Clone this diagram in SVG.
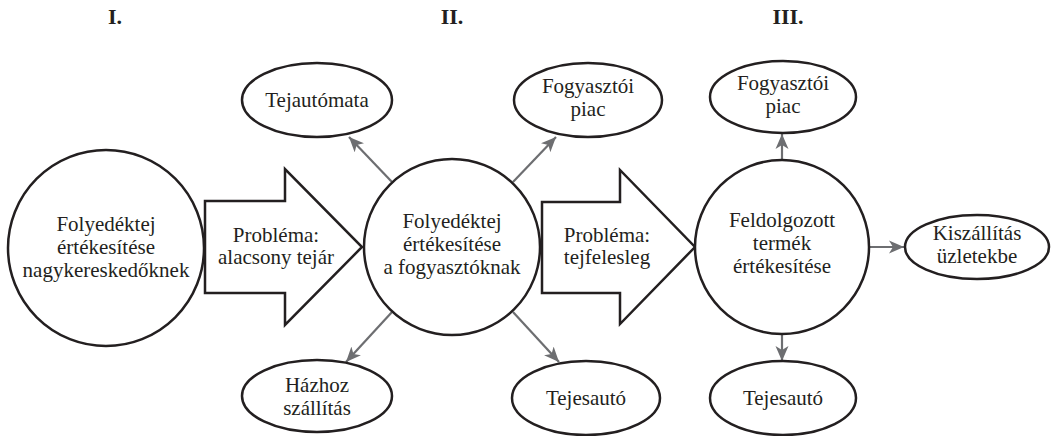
<svg xmlns="http://www.w3.org/2000/svg" width="1064" height="436" viewBox="0 0 1064 436" font-family="Liberation Serif, Times New Roman, serif">
  <style>
    .shape { fill: #ffffff; stroke: #231f20; stroke-width: 2.5; }
    .label { font-size: 21px; fill: #231f20; text-anchor: middle; }
    .head { font-size: 22px; font-weight: bold; fill: #231f20; text-anchor: middle; }
    .link { fill: none; stroke: #6d6e71; stroke-width: 2.2; marker-end: url(#tip); }
  </style>
  <defs>
    <marker id="tip" markerUnits="userSpaceOnUse" markerWidth="16" markerHeight="14" viewBox="0 0 16 14" refX="15" refY="7" orient="auto">
      <path d="M0,0.5 L15,7 L0,13.5 L4,7 z" fill="#6d6e71"/>
    </marker>
  </defs>

  <rect width="1064" height="436" fill="#ffffff"/>

  <!-- phase headings -->
  <g id="headings">
    <text class="head" x="115" y="24">I.</text>
    <text class="head" x="452" y="24">II.</text>
    <text class="head" x="788" y="24">III.</text>
  </g>

  <!-- connectors -->
  <g id="connectors">
    <line class="link" x1="392" y1="182" x2="349" y2="137"/>
    <line class="link" x1="513" y1="182" x2="556" y2="137"/>
    <line class="link" x1="392" y1="312" x2="346" y2="362"/>
    <line class="link" x1="513" y1="312" x2="559" y2="362"/>
    <line class="link" x1="782" y1="160" x2="782" y2="134"/>
    <line class="link" x1="782" y1="334" x2="782" y2="361"/>
    <line class="link" x1="869" y1="247" x2="904" y2="247"/>
  </g>

  <!-- stage I -->
  <g id="node-nagyker">
    <circle class="shape" cx="106" cy="248" r="98"/>
    <text class="label" x="106" y="231">Folyedéktej</text>
    <text class="label" x="106" y="254">értékesítése</text>
    <text class="label" x="106" y="277">nagykereskedőknek</text>
  </g>

  <g id="problem-1">
    <polygon class="shape" points="205,201 285,201 285,169 362,247 285,325 285,293 205,293"/>
    <text class="label" x="276" y="242">Probléma:</text>
    <text class="label" x="276" y="264">alacsony tejár</text>
  </g>

  <!-- stage II -->
  <g id="node-fogyasztok">
    <circle class="shape" cx="452" cy="247" r="88"/>
    <text class="label" x="452" y="228">Folyedéktej</text>
    <text class="label" x="452" y="251">értékesítése</text>
    <text class="label" x="452" y="274">a fogyasztóknak</text>
  </g>

  <g id="node-tejautomata">
    <ellipse class="shape" cx="317" cy="100" rx="75" ry="37"/>
    <text class="label" x="317" y="107">Tejautómata</text>
  </g>

  <g id="node-piac-2">
    <ellipse class="shape" cx="588" cy="100" rx="74" ry="37"/>
    <text class="label" x="588" y="93">Fogyasztói</text>
    <text class="label" x="588" y="116">piac</text>
  </g>

  <g id="node-hazhoz">
    <ellipse class="shape" cx="317" cy="396" rx="75" ry="36"/>
    <text class="label" x="317" y="392">Házhoz</text>
    <text class="label" x="317" y="415">szállítás</text>
  </g>

  <g id="node-tejesauto-2">
    <ellipse class="shape" cx="586" cy="398" rx="74" ry="37"/>
    <text class="label" x="586" y="405">Tejesautó</text>
  </g>

  <g id="problem-2">
    <polygon class="shape" points="542,202 620,202 620,170 695,247 620,324 620,293 542,293"/>
    <text class="label" x="607" y="242">Probléma:</text>
    <text class="label" x="607" y="264">tejfelesleg</text>
  </g>

  <!-- stage III -->
  <g id="node-feldolgozott">
    <circle class="shape" cx="782" cy="247" r="87"/>
    <text class="label" x="782" y="227">Feldolgozott</text>
    <text class="label" x="782" y="250">termék</text>
    <text class="label" x="782" y="273">értékesítése</text>
  </g>

  <g id="node-piac-3">
    <ellipse class="shape" cx="783" cy="97" rx="73" ry="36"/>
    <text class="label" x="783" y="90">Fogyasztói</text>
    <text class="label" x="783" y="113">piac</text>
  </g>

  <g id="node-tejesauto-3">
    <ellipse class="shape" cx="783" cy="398" rx="73" ry="37"/>
    <text class="label" x="783" y="405">Tejesautó</text>
  </g>

  <g id="node-kiszallitas">
    <ellipse class="shape" cx="977" cy="247" rx="72" ry="32"/>
    <text class="label" x="977" y="240">Kiszállítás</text>
    <text class="label" x="977" y="263">üzletekbe</text>
  </g>
</svg>
